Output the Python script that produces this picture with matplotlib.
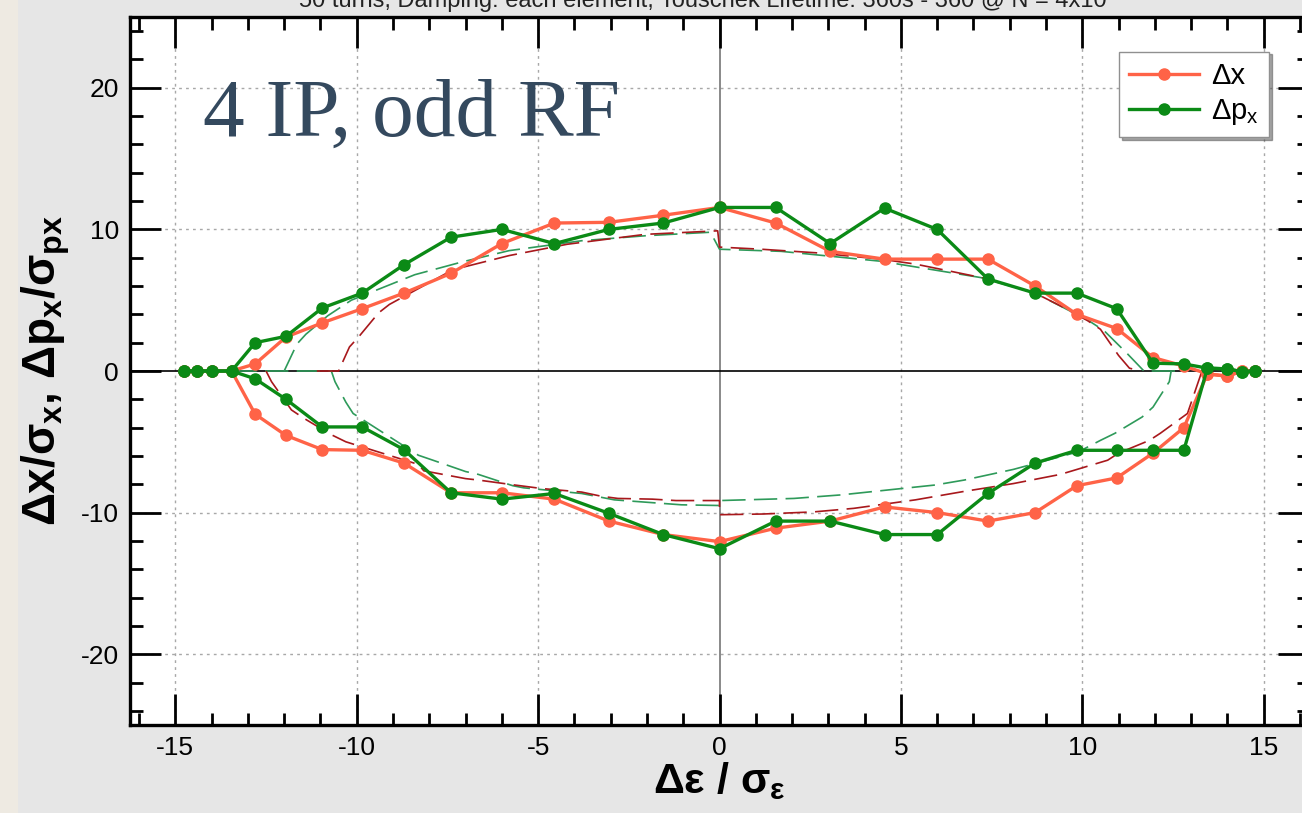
import matplotlib.pyplot as plt
from matplotlib.patches import Rectangle
from matplotlib.ticker import MultipleLocator

plt.rcParams['font.family'] = ['Liberation Sans', 'DejaVu Sans']
plt.rcParams['axes.unicode_minus'] = False
plt.rcParams['mathtext.fontset'] = 'custom'
plt.rcParams['mathtext.rm'] = 'Liberation Sans:bold'
plt.rcParams['mathtext.it'] = 'Liberation Sans:bold'
plt.rcParams['mathtext.bf'] = 'Liberation Sans:bold'

# energy offsets of the tracked particles (same grid for every branch)
eps = [-14.75, -14.4, -14.0, -13.45, -12.8, -11.95, -10.95, -9.85, -8.7, -7.4,
       -6.0, -4.55, -3.05, -1.55, 0.0, 1.55, 3.05, 4.55, 6.0, 7.4,
       8.7, 9.85, 10.95, 11.95, 12.8, 13.45, 14.0, 14.4, 14.75]

# dx / sigma_x, upper and lower branch
dx_up = [0, 0, 0, 0, 0.5, 2.4, 3.4, 4.4, 5.5, 6.9,
         9.0, 10.45, 10.5, 11.0, 11.55, 10.45, 8.45, 7.9, 7.9, 7.9,
         6.0, 4.0, 3.0, 0.95, 0.35, -0.2, -0.37, 0, 0]
dx_lo = [0, 0, 0, 0, -3.05, -4.55, -5.55, -5.6, -6.5, -8.6,
         -8.6, -9.05, -10.6, -11.55, -12.05, -11.1, -10.6, -9.6, -10.0, -10.6,
         -10.0, -8.1, -7.55, -5.8, -4.0, -0.2, -0.37, 0, 0]

# dpx / sigma_px, upper and lower branch
dpx_up = [0, 0, 0, 0, 2.0, 2.45, 4.45, 5.5, 7.5, 9.45,
          10.0, 9.0, 10.0, 10.45, 11.55, 11.55, 9.0, 11.5, 10.0, 6.5,
          5.5, 5.5, 4.4, 0.55, 0.5, 0.2, 0.15, -0.05, 0]
dpx_lo = [0, 0, 0, 0, -0.55, -2.0, -3.95, -3.95, -5.55, -8.6,
          -9.05, -8.65, -10.05, -11.55, -12.55, -10.6, -10.6, -11.55, -11.55, -8.65,
          -6.5, -5.6, -5.6, -5.6, -5.6, 0.2, 0.15, -0.05, 0]

# dashed acceptance curves
red_up_x = [-11.1, -10.5, -10.2, -9.95, -9.4, -9.1, -7.35, -5.8, -4.2, -2.05, -0.05, 0.0,
            1.15, 2.65, 4.45, 5.4, 6.55, 7.4, 8.7, 9.4, 10.15, 10.5, 11.0, 11.3, 11.6]
red_up_y = [0, 0, 1.7, 2.4, 4.1, 4.7, 7.15, 8.15, 8.95, 9.65, 9.9, 8.75,
            8.6, 8.35, 7.9, 7.55, 6.95, 6.5, 5.5, 4.6, 3.55, 2.95, 1.1, 0.2, 0]
red_lo_x = [-12.5, -12.35, -11.8, -11.45, -10.7, -10.3, -8.3, -8.15, -7.0, -6.65, -5.65,
            -4.9, -3.8, -3.25, -2.8, -1.85, -1.2, 0.0, 0.0, 1.2, 2.6, 3.7, 5.4, 6.75,
            8.1, 9.4, 10.7, 11.0, 11.85, 12.15, 12.9, 13.3]
red_lo_y = [0, -0.75, -2.75, -3.35, -4.5, -5.0, -6.6, -7.05, -7.6, -7.7, -8.05,
            -8.3, -8.55, -8.85, -9.0, -9.05, -9.15, -9.15, -10.15, -10.1, -9.95, -9.7, -9.1, -8.5,
            -7.95, -7.3, -6.3, -5.8, -4.9, -4.4, -3.0, 0]
grn_up_x = [-12.0, -11.65, -11.4, -10.8, -10.15, -8.4, -7.1, -5.8, -3.8, -2.05, -0.25, 0.0,
            1.7, 4.45, 7.2, 8.7, 10.15, 10.6, 11.25, 11.55, 11.7, 12.7]
grn_up_y = [0, 1.9, 2.6, 3.9, 5.0, 6.8, 7.7, 8.5, 9.2, 9.55, 9.8, 8.6,
            8.45, 7.75, 6.6, 5.5, 3.6, 2.85, 1.2, 0.4, 0, 0]
grn_lo_x = [-13.4, -10.7, -10.6, -10.3, -10.1, -8.3, -7.9, -7.0, -6.65, -5.7, -5.4, -3.8,
            -2.9, -1.05, 0.0, 0.0, 2.05, 3.35, 4.65, 5.95, 6.75, 7.2, 8.1, 9.9, 10.5,
            10.9, 11.65, 11.95, 12.4, 12.45]
grn_lo_y = [0, 0, -0.75, -2.2, -3.0, -5.95, -6.3, -7.1, -7.3, -8.1, -8.25, -8.65,
            -9.1, -9.45, -9.5, -9.15, -9.0, -8.75, -8.4, -8.05, -7.7, -7.45, -6.95, -5.7, -4.9,
            -4.4, -3.25, -2.55, -0.75, 0]

orange = '#ff6347'
green = '#0b8a16'
dred = '#a8181c'
dgrn = '#2e9a5a'

fig = plt.figure(figsize=(13.02, 8.13), dpi=100)
fig.patch.set_facecolor('#e6e6e6')
fig.add_artist(Rectangle((0, 0), 18 / 1302, 1, transform=fig.transFigure,
                         facecolor='#eeeae2', edgecolor='none'))

ax = fig.add_axes([130 / 1302, 88 / 813, 1179 / 1302, 708 / 813])
ax.set_xlim(-16.25, 16.25)
ax.set_ylim(-25, 25)

# grid and zero lines
for gx in [-15, -10, -5, 5, 10, 15]:
    ax.axvline(gx, color='#a8a8a8', lw=1.0, ls=(0, (2, 3)), zorder=0)
for gy in [-20, -10, 10, 20]:
    ax.axhline(gy, color='#a8a8a8', lw=1.0, ls=(0, (2, 3)), zorder=0)
ax.axvline(0, color='#808080', lw=1.3, zorder=1)
ax.axhline(0, color='black', lw=1.2, zorder=1)

dash = (0, (14, 5))
ax.plot(grn_lo_x, grn_lo_y, color=dgrn, lw=1.2, ls=dash, zorder=2)
ax.plot(grn_up_x, grn_up_y, color=dgrn, lw=1.2, ls=dash, zorder=2)
ax.plot(red_lo_x, red_lo_y, color=dred, lw=1.2, ls=dash, zorder=2)
ax.plot(red_up_x, red_up_y, color=dred, lw=1.2, ls=dash, zorder=2)

ax.plot(eps, dx_up, color=orange, lw=2.4, marker='o', ms=8, zorder=3, label='Δx')
ax.plot(eps, dx_lo, color=orange, lw=2.4, marker='o', ms=8, zorder=3)
ax.plot(eps, dpx_up, color=green, lw=2.4, marker='o', ms=8, zorder=4,
        label=r'Δp$_{\mathregular{x}}$')
ax.plot(eps, dpx_lo, color=green, lw=2.4, marker='o', ms=8, zorder=4)

ax.xaxis.set_major_locator(MultipleLocator(5))
ax.xaxis.set_minor_locator(MultipleLocator(1))
ax.yaxis.set_major_locator(MultipleLocator(10))
ax.yaxis.set_minor_locator(MultipleLocator(2))
ax.tick_params(which='both', direction='in', top=True, right=True, width=2.0, color='black')
ax.tick_params(which='major', length=22, labelsize=19, pad=8)
ax.tick_params(which='minor', length=9)
for s in ax.spines.values():
    s.set_linewidth(2.4)

ax.set_xlabel(r'$\Delta\epsilon$ / $\sigma_\epsilon$', fontsize=31, fontweight='bold', labelpad=0)
ax.set_ylabel(r'$\Delta x/\sigma_x$, $\Delta p_x/\sigma_{px}$', fontsize=33, fontweight='bold',
              labelpad=6)

ax.text(0.062, 0.86, '4 IP, odd RF', transform=ax.transAxes, fontsize=60,
        family='Liberation Serif', color='#34495e', va='center', ha='left')

leg = ax.legend(loc='upper right', bbox_to_anchor=(0.966, 0.951), borderaxespad=0,
                fontsize=21, frameon=True, fancybox=False, shadow=True, handlelength=2.4,
                borderpad=0.35, labelspacing=0.25, handletextpad=0.4)
leg.get_frame().set_edgecolor('#909090')
leg.get_frame().set_linewidth(1.0)

fig.text(0.54, 0.999, '50 turns, Damping: each element, Touschek Lifetime: 360s - 360 @ N = 4x10',
         fontsize=17, ha='center', va='center', color='#222222')

fig.savefig('out.png', dpi=100, facecolor=fig.get_facecolor())
